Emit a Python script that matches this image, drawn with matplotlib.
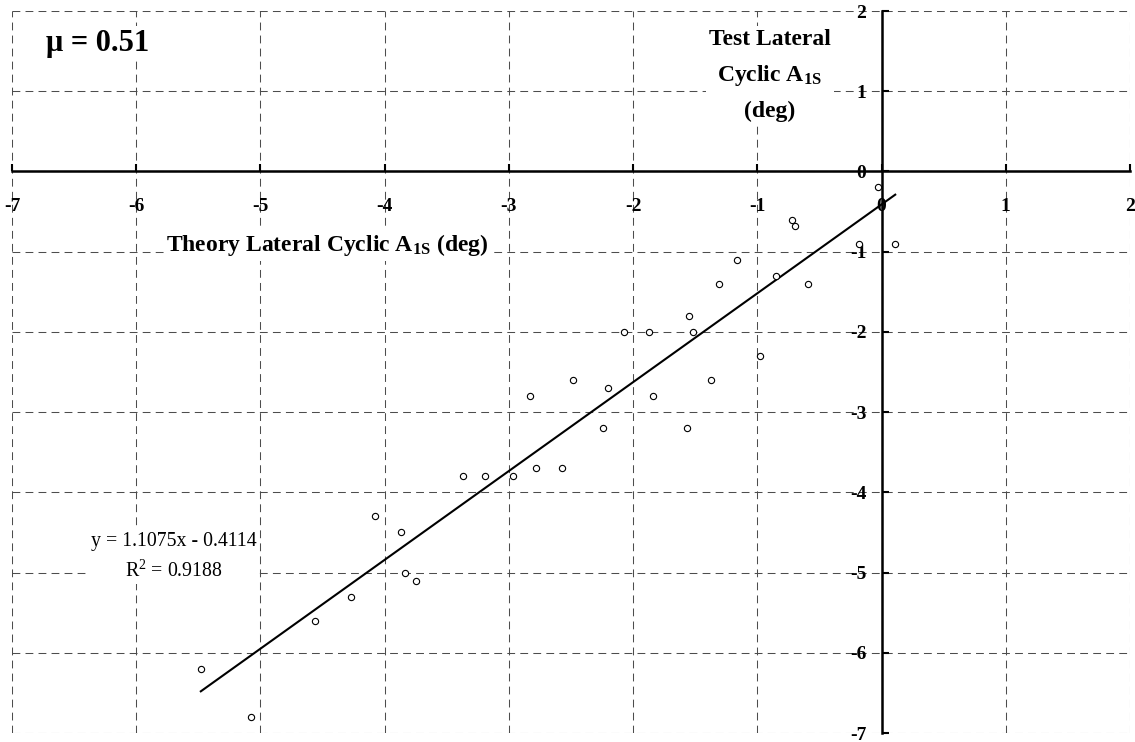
import numpy as np
import matplotlib
matplotlib.use('Agg')
import matplotlib.pyplot as plt

# theory (x) vs test (y) lateral cyclic, deg
theory = [-3.37, -3.19, -2.97, -2.78, -2.57, -2.83, -2.48, -2.20, -2.24, -2.07,
          -1.87, -1.84, -1.57, -1.55, -1.52, -1.37, -1.31, -1.16, -0.98, -0.85,
          -0.59, -0.18, 0.11, -0.03, -0.72, -0.70,
          -4.08, -3.87, -3.84, -3.75, -4.27, -4.56, -5.48, -5.08]
test = [-3.8, -3.8, -3.8, -3.7, -3.7, -2.8, -2.6, -2.7, -3.2, -2.0,
        -2.0, -2.8, -3.2, -1.8, -2.0, -2.6, -1.4, -1.1, -2.3, -1.3,
        -1.4, -0.9, -0.9, -0.2, -0.6, -0.68,
        -4.3, -4.5, -5.0, -5.1, -5.3, -5.6, -6.2, -6.8]
slope = 1.1075
intercept = -0.4114
r2 = 0.9188
mu = 0.51
ticks = list(range(-7, 3))

plt.rcParams['font.family'] = 'Liberation Serif'
plt.rcParams['mathtext.fontset'] = 'custom'
plt.rcParams['mathtext.rm'] = 'Liberation Serif'
plt.rcParams['mathtext.bf'] = 'Liberation Serif:bold'
plt.rcParams['mathtext.it'] = 'Liberation Serif:italic'
plt.rcParams['axes.unicode_minus'] = False

fig = plt.figure(figsize=(11.35, 7.42), dpi=100)
ax = fig.add_axes([12 / 1135, 9 / 742, 1118 / 1135, 722 / 742])
ax.set_xlim(-7, 2)
ax.set_ylim(-7, 2)
ax.set_xticks(ticks)
ax.set_yticks(ticks)
ax.set_axisbelow(True)
ax.grid(True, linestyle=(0, (7.5, 5)), linewidth=0.75, color='0.3')

for s in ['top', 'right']:
    ax.spines[s].set_visible(False)
for s in ['left', 'bottom']:
    ax.spines[s].set_position(('data', 0))
    ax.spines[s].set_linewidth(1.8)
    ax.spines[s].set_zorder(5)

ax.tick_params(axis='both', direction='in', length=5, width=1.5,
               labelsize=14)
ax.tick_params(axis='x', pad=19)
ax.tick_params(axis='y', pad=11)
for lab in ax.get_xticklabels() + ax.get_yticklabels():
    lab.set_fontweight('bold')

xs = np.array([min(theory), max(theory)])
ax.plot(xs, slope * xs + intercept, color='black', lw=1.5, zorder=4)
ax.plot(theory, test, 'o', mfc='white', mec='black', ms=4.5, mew=0.8,
        zorder=6)

box = dict(facecolor='white', edgecolor='none', pad=2)
ax.text(-6.73, 1.6, '\u03bc = %.2f' % mu, fontsize=22, fontweight='bold',
        ha='left', va='center', bbox=box)
ax.text(-0.9, 1.2, 'Test Lateral\nCyclic A$_\\mathbf{1S}$\n(deg)',
        fontsize=17, fontweight='bold', ha='center', va='center',
        multialignment='center', linespacing=1.75, bbox=box)
ax.text(-4.46, -0.92, 'Theory Lateral Cyclic A$_\\mathbf{1S}$ (deg)',
        fontsize=17, fontweight='bold', ha='center', va='center', bbox=box)
sign = '-' if intercept < 0 else '+'
ax.text(-5.7, -4.8,
        'y = %.4fx %s %.4f\nR$^2$ = %.4f' % (slope, sign, abs(intercept), r2),
        fontsize=14.3, ha='center', va='center', multialignment='center',
        linespacing=1.6, bbox=box)

fig.savefig('out.png', dpi=100)
